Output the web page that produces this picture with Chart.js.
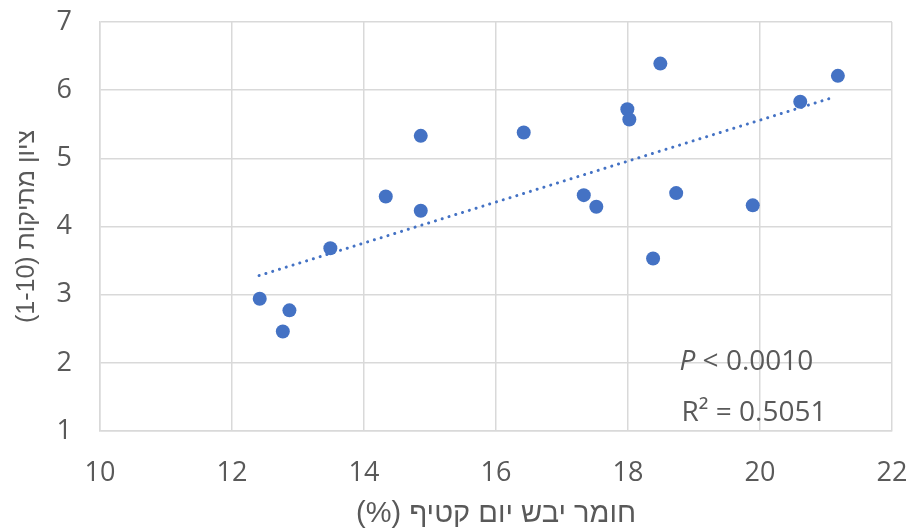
<!DOCTYPE html>
<html>
<head>
<meta charset="utf-8">
<script src="https://cdn.jsdelivr.net/npm/chart.js@4"></script>
<style>
    body { margin: 0; background: #fff; }
    #wrap { width: 912px; height: 531px; }
</style>
</head>
<body>
<div id="wrap"><canvas id="chart" width="912" height="531"></canvas></div>
<script>
// dry matter at harvest (%) vs sweetness score
const dryMatter = [12.42, 12.77, 12.87, 13.49, 14.33, 14.86, 14.86, 16.42, 17.33, 17.52,
                   17.99, 18.02, 18.38, 18.49, 18.73, 19.89, 20.61, 21.18];
const sweetness = [2.94, 2.46, 2.77, 3.68, 4.44, 5.33, 4.23, 5.38, 4.46, 4.29,
                   5.72, 5.57, 3.53, 6.39, 4.49, 4.31, 5.83, 6.21];

// trendline end points
const trendX = [12.41, 21.13];
const trendY = [3.28, 5.90];

const xTicks = [10, 12, 14, 16, 18, 20, 22];
const yTicks = [1, 2, 3, 4, 5, 6, 7];

const xTitle = '\u200Fחומר יבש יום קטיף (%)\u200F';
const yTitle = '\u200Fציון מתיקות (1-10)\u200F';

// stats labels: [italic part, rest], anchored at data coords
const statLabels = [['P', ' < 0.0010'], ['', 'R² = 0.5051']];
const statX = [18.78, 18.81];
const statY = [2.01, 1.27];

const blue = '#4472C4';
const grey = '#595959';
const gridColor = '#d9d9d9';
const fontFamily = '"Open Sans", "DejaVu Sans", sans-serif';
const titleFamily = '"Liberation Sans", "DejaVu Sans", sans-serif';

const statsPlugin = {
    id: 'stats',
    afterDatasetsDraw(chart) {
        const ctx = chart.ctx;
        const xs = chart.scales.x;
        const ys = chart.scales.y;
        ctx.save();
        ctx.fillStyle = grey;
        ctx.textBaseline = 'middle';
        ctx.textAlign = 'left';
        statLabels.forEach((parts, i) => {
            let px = xs.getPixelForValue(statX[i]);
            const py = ys.getPixelForValue(statY[i]);
            if (parts[0]) {
                ctx.font = 'italic 28px ' + fontFamily;
                ctx.fillText(parts[0], px, py);
                px += ctx.measureText(parts[0]).width;
            }
            ctx.font = '28px ' + fontFamily;
            ctx.fillText(parts[1], px, py);
        });
        ctx.restore();
    }
};

const ctx = document.getElementById('chart').getContext('2d');
new Chart(ctx, {
    type: 'scatter',
    data: {
        datasets: [{
            label: 'points',
            data: dryMatter.map((x, i) => ({x: x, y: sweetness[i]})),
            backgroundColor: blue,
            borderColor: blue,
            pointRadius: 7,
            pointHoverRadius: 7,
            borderWidth: 0
        }, {
            label: 'trend',
            data: trendX.map((x, i) => ({x: x, y: trendY[i]})),
            showLine: true,
            borderColor: blue,
            borderWidth: 3,
            borderDash: [0.1, 7],
            borderCapStyle: 'round',
            pointRadius: 0,
            fill: false
        }]
    },
    options: {
        responsive: false,
        animation: false,
        devicePixelRatio: 1,
        layout: {padding: {left: 0, right: 20, top: 22, bottom: 0}},
        plugins: {
            legend: {display: false},
            tooltip: {enabled: false}
        },
        scales: {
            x: {
                type: 'linear',
                min: 10,
                max: 22,
                afterBuildTicks: (scale) => { scale.ticks = xTicks.map(v => ({value: v})); },
                afterFit: (scale) => {
                    scale.height = 100;
                    scale.paddingLeft = 0;
                    scale.paddingRight = 0;
                },
                grid: {color: gridColor, lineWidth: 1.5, drawTicks: false},
                border: {color: gridColor, width: 1.5},
                ticks: {color: grey, padding: 26, font: {family: fontFamily, size: 27}},
                title: {
                    display: true,
                    text: xTitle,
                    color: grey,
                    font: {family: titleFamily, size: 29},
                    padding: {top: 0, bottom: 0}
                }
            },
            y: {
                type: 'linear',
                min: 1,
                max: 7,
                afterBuildTicks: (scale) => { scale.ticks = yTicks.map(v => ({value: v})); },
                afterFit: (scale) => {
                    scale.width = 100;
                    scale.paddingTop = 0;
                    scale.paddingBottom = 0;
                },
                grid: {color: gridColor, lineWidth: 1.5, drawTicks: false},
                border: {color: gridColor, width: 1.5},
                ticks: {color: grey, padding: 28, font: {family: fontFamily, size: 27}},
                title: {
                    display: true,
                    text: yTitle,
                    color: grey,
                    font: {family: titleFamily, size: 25},
                    padding: {top: 12, bottom: 0}
                }
            }
        }
    },
    plugins: [statsPlugin]
});
</script>
</body>
</html>
